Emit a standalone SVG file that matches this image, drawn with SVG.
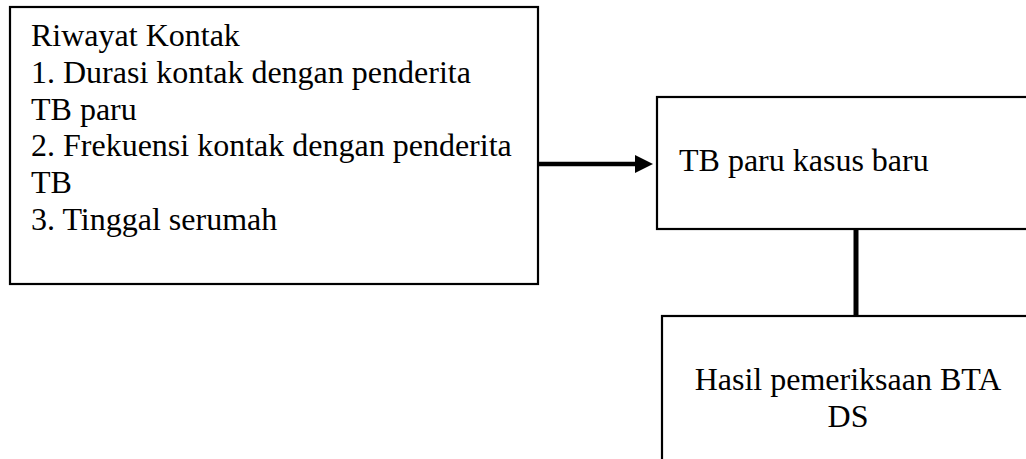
<svg xmlns="http://www.w3.org/2000/svg" width="1026" height="459" viewBox="0 0 1026 459">
<style>
.box{fill:#fff;stroke:#000;stroke-width:2.2}
.t{font-family:"Liberation Serif","Times New Roman",serif;font-size:32px;fill:#000}
.c{stroke:#000;fill:none}
</style>
<rect width="1026" height="459" fill="#fff"/>
<g id="connectors">
<line class="c" x1="539" y1="164" x2="637" y2="164" stroke-width="4.5"/>
<polygon points="635,155 653,164 635,173" fill="#000"/>
<line class="c" x1="856" y1="229" x2="856" y2="316" stroke-width="5"/>
</g>
<g id="riwayat">
<rect class="box" x="10" y="7" width="528" height="277"/>
<text class="t" x="31"><tspan x="31" y="46">Riwayat Kontak</tspan><tspan x="31" y="82.8">1. Durasi kontak dengan penderita</tspan><tspan x="31" y="119.6">TB paru</tspan><tspan x="31" y="156.4">2. Frekuensi kontak dengan penderita</tspan><tspan x="31" y="193.2">TB</tspan><tspan x="31" y="230">3. Tinggal serumah</tspan></text>
</g>
<g id="tbparu">
<rect class="box" x="657" y="97" width="400" height="132"/>
<text class="t" x="679" y="171">TB paru kasus baru</text>
</g>
<g id="hasil">
<rect class="box" x="662" y="316" width="400" height="160"/>
<text class="t" text-anchor="middle"><tspan x="848" y="389.5">Hasil pemeriksaan BTA</tspan><tspan x="848" y="426.7">DS</tspan></text>
</g>
</svg>
